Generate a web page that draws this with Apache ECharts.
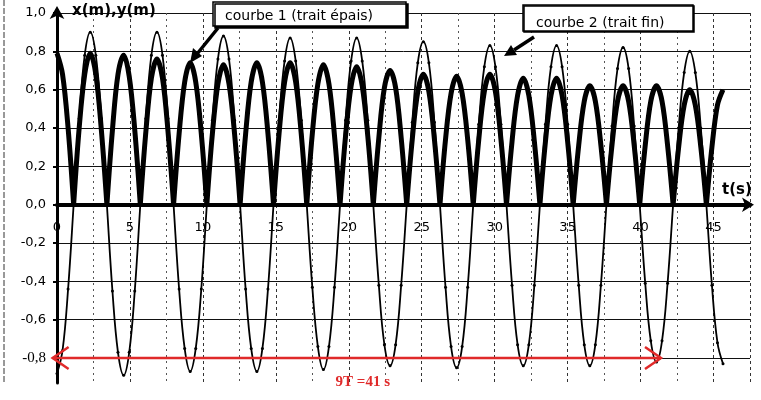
<!DOCTYPE html>
<html><head><meta charset="utf-8">
<script src="https://cdn.jsdelivr.net/npm/echarts@6/dist/echarts.min.js"></script>
<style>html,body{margin:0;padding:0;background:#fff}#c{width:761px;height:400px}</style>
</head><body><div id="c"></div>
<script>
// time samples t (s)
const tValues = [
 0, 0.38, 0.76, 1.14, 1.52, 1.90, 2.28, 2.66, 3.04, 3.42, 3.80, 4.18,
 4.57, 4.95, 5.33, 5.71, 6.09, 6.47, 6.85, 7.23, 7.61, 7.99, 8.37, 8.75,
 9.13, 9.51, 9.89, 10.27, 10.65, 11.03, 11.41, 11.79, 12.17, 12.55, 12.93, 13.31,
 13.70, 14.08, 14.46, 14.84, 15.22, 15.60, 15.98, 16.36, 16.74, 17.12, 17.50, 17.88,
 18.26, 18.64, 19.02, 19.40, 19.78, 20.16, 20.54, 20.92, 21.30, 21.68, 22.06, 22.44,
 22.83, 23.21, 23.59, 23.97, 24.35, 24.73, 25.11, 25.49, 25.87, 26.25, 26.63, 27.01,
 27.39, 27.77, 28.15, 28.53, 28.91, 29.29, 29.67, 30.05, 30.43, 30.81, 31.19, 31.57,
 31.96, 32.34, 32.72, 33.10, 33.48, 33.86, 34.24, 34.62, 35.00, 35.38, 35.76, 36.14,
 36.52, 36.90, 37.28, 37.66, 38.04, 38.42, 38.80, 39.18, 39.56, 39.94, 40.32, 40.70,
 41.09, 41.47, 41.85, 42.23, 42.61, 42.99, 43.37, 43.75, 44.13, 44.51, 44.89, 45.27,
 45.65
];
// courbe 1 (trait épais)
const courbe1 = [
 0.79, 0.68, 0.40, 0, 0.40, 0.68, 0.79, 0.68, 0.39, 0, 0.39, 0.68,
 0.78, 0.67, 0.39, 0, 0.38, 0.66, 0.76, 0.66, 0.38, 0, 0.37, 0.64,
 0.74, 0.64, 0.37, 0, 0.37, 0.63, 0.73, 0.63, 0.37, 0, 0.37, 0.64,
 0.74, 0.64, 0.37, 0, 0.37, 0.64, 0.74, 0.64, 0.37, 0, 0.37, 0.63,
 0.73, 0.63, 0.36, 0, 0.36, 0.62, 0.72, 0.62, 0.36, 0, 0.35, 0.61,
 0.70, 0.61, 0.35, 0, 0.34, 0.59, 0.68, 0.59, 0.34, 0, 0.34, 0.58,
 0.67, 0.58, 0.34, 0, 0.34, 0.59, 0.68, 0.59, 0.34, 0, 0.33, 0.57,
 0.66, 0.57, 0.33, 0, 0.33, 0.57, 0.66, 0.57, 0.33, 0, 0.31, 0.54,
 0.62, 0.54, 0.31, 0, 0.31, 0.54, 0.62, 0.54, 0.31, 0, 0.31, 0.54,
 0.62, 0.54, 0.31, 0, 0.30, 0.52, 0.60, 0.52, 0.30, 0, 0.30, 0.52,
 0.60
];
// courbe 2 (trait fin)
const courbe2 = [
 -0.88, -0.76, -0.44, 0, 0.45, 0.78, 0.90, 0.78, 0.45, 0, -0.45, -0.77,
 -0.89, -0.77, -0.45, 0, 0.45, 0.78, 0.90, 0.78, 0.45, 0, -0.44, -0.75,
 -0.87, -0.75, -0.44, 0, 0.44, 0.76, 0.88, 0.76, 0.44, 0, -0.44, -0.75,
 -0.87, -0.75, -0.44, 0, 0.44, 0.75, 0.87, 0.75, 0.44, 0, -0.43, -0.74,
 -0.86, -0.74, -0.43, 0, 0.44, 0.75, 0.87, 0.75, 0.44, 0, -0.42, -0.73,
 -0.84, -0.73, -0.42, 0, 0.43, 0.74, 0.85, 0.74, 0.43, 0, -0.43, -0.74,
 -0.85, -0.74, -0.43, 0, 0.42, 0.72, 0.83, 0.72, 0.42, 0, -0.42, -0.73,
 -0.84, -0.73, -0.42, 0, 0.42, 0.72, 0.83, 0.72, 0.42, 0, -0.42, -0.73,
 -0.84, -0.73, -0.42, 0, 0.41, 0.71, 0.82, 0.71, 0.41, 0, -0.41, -0.71,
 -0.82, -0.71, -0.41, 0, 0.40, 0.69, 0.80, 0.69, 0.40, 0, -0.42, -0.72,
 -0.83
];
const yTicks = [-0.8, -0.6, -0.4, -0.2, 0, 0.2, 0.4, 0.6, 0.8, 1.0];
const xTickStep = 5;
const yMin = -0.93, yMax = 1.0, xMax = 47.5;
const periodSpan = [-0.3, 41.4];   // red arrow 9T
const periodLevel = -0.8;
const periodLabel = '9T =41 s';
const label1 = 'courbe 1 (trait épais)';
const label2 = 'courbe 2 (trait fin)';
const yName = 'x(m),y(m)';
const xName = 't(s)';

// thick curve: break the line at each zero so the bottoms stay pointed
const thickData = [];
tValues.forEach((t, i) => {
  thickData.push([t, courbe1[i]]);
  if (courbe1[i] === 0 && i > 0 && i < tValues.length - 1) {
    thickData.push(null);
    thickData.push([t, courbe1[i]]);
  }
});

const chart = echarts.init(document.getElementById('c'), null, {renderer: 'canvas'});
const fmt = v => (Math.round(v * 10) / 10).toFixed(1).replace('.', ',');
chart.setOption({
  animation: false,
  backgroundColor: '#fff',
  grid: {left: 57, right: 11, top: 13, bottom: 17, outerBoundsMode: 'none', containLabel: false},
  xAxis: {
    type: 'value', min: 0, max: xMax, interval: xTickStep, position: 'bottom', offset: 0,
    axisLine: {onZero: false, lineStyle: {color: '#000', width: 4}, symbol: ['none', 'arrow'], symbolSize: [11, 12], symbolOffset: [0, 4]},
    axisTick: {show: false},
    axisLabel: {margin: 16, color: '#000', fontFamily: 'DejaVu Sans', fontSize: 13,
      formatter: v => (v % 5 === 0 && v <= 45) ? String(v) : ''},
    splitLine: {show: true, lineStyle: {color: '#333', type: [3, 3], width: 1}},
    minorTick: {show: false, splitNumber: 2},
    minorSplitLine: {show: true, lineStyle: {color: '#555', type: [2, 4], width: 1}}
  },
  yAxis: {
    type: 'value', min: yMin, max: yMax,
    axisLine: {show: true, onZero: false, lineStyle: {color: '#000', width: 3}, symbol: ['none', 'arrow'], symbolSize: [11, 13], symbolOffset: [0, 7]},
    axisTick: {show: true, length: 4, customValues: yTicks, lineStyle: {color: '#000', width: 2}},
    axisLabel: {customValues: yTicks, margin: 11, color: '#000', fontFamily: 'DejaVu Sans', fontSize: 13,
      formatter: v => Math.abs(v + 0.8) < 1e-6 ? '{s|' + fmt(v) + '}' : fmt(v),
      rich: {s: {fontFamily: 'Liberation Serif', fontSize: 15, color: '#000'}}},
    splitLine: {show: true, lineStyle: {color: '#111', width: 1}}
  },
  series: [
    {
      name: label1, type: 'line', smooth: 0.35, showSymbol: false, connectNulls: false,
      lineStyle: {color: '#000', width: 5}, z: 3,
      data: thickData
    },
    {
      name: label2, type: 'line', smooth: 0.4, symbol: 'circle', symbolSize: 3, showSymbol: true,
      itemStyle: {color: '#000'},
      lineStyle: {color: '#000', width: 1.8}, z: 4,
      data: tValues.map((t, i) => [t, courbe2[i]])
    }
  ]
});

// put the time axis on y = 0
const zeroY = chart.convertToPixel({gridIndex: 0}, [0, 0])[1];
const bottomY = chart.convertToPixel({gridIndex: 0}, [0, yMin])[1];
chart.setOption({xAxis: {offset: -(bottomY - zeroY)}});

const pL = chart.convertToPixel({gridIndex: 0}, [periodSpan[0], periodLevel]);
const pR = chart.convertToPixel({gridIndex: 0}, [periodSpan[1], periodLevel]);
const red = '#e02a2a';
chart.setOption({
  graphic: [
    {type: 'line', shape: {x1: 4, y1: 0, x2: 4, y2: 383}, style: {stroke: '#333', lineWidth: 1, lineDash: [6, 2]}},
    {type: 'text', left: 72, top: 4, style: {text: yName, font: 'bold 15px "DejaVu Sans"', fill: '#000'}},
    {type: 'text', x: 722, y: 190, style: {text: xName, font: 'bold 15px "DejaVu Sans"', fill: '#000', verticalAlign: 'middle'}},
    {type: 'rect', shape: {x: 213, y: 2, width: 193, height: 24}, style: {fill: '#fff', stroke: '#000', lineWidth: 1.5, shadowColor: '#000', shadowOffsetX: 2, shadowOffsetY: 2, shadowBlur: 0}, z: 10},
    {type: 'text', x: 225, y: 16, z: 11, style: {text: label1, font: '14px "DejaVu Sans"', fill: '#000', verticalAlign: 'middle'}},
    {type: 'line', z: 10, shape: {x1: 218, y1: 28, x2: 197, y2: 54}, style: {stroke: '#000', lineWidth: 3.5}},
    {type: 'polygon', z: 10, shape: {points: [[190, 63], [202, 56], [193, 48]]}, style: {fill: '#000'}},
    {type: 'rect', shape: {x: 523, y: 5, width: 170, height: 26}, style: {fill: '#fff', stroke: '#000', lineWidth: 1.5, shadowColor: '#000', shadowOffsetX: 1, shadowOffsetY: 1, shadowBlur: 0}, z: 10},
    {type: 'text', x: 536, y: 23, z: 11, style: {text: label2, font: '14px "DejaVu Sans"', fill: '#000', verticalAlign: 'middle'}},
    {type: 'line', z: 10, shape: {x1: 534, y1: 37, x2: 514, y2: 50}, style: {stroke: '#000', lineWidth: 3.5}},
    {type: 'polygon', z: 10, shape: {points: [[504, 56], [517, 55], [511, 45]]}, style: {fill: '#000'}},
    {type: 'line', z: 20, shape: {x1: pL[0], y1: pL[1], x2: pR[0], y2: pR[1]}, style: {stroke: red, lineWidth: 2.5}},
    {type: 'polyline', z: 20, shape: {points: [[pL[0] + 16, pL[1] - 11], [pL[0], pL[1]], [pL[0] + 16, pL[1] + 11]]}, style: {stroke: red, lineWidth: 2.5, fill: null}},
    {type: 'polyline', z: 20, shape: {points: [[pR[0] - 16, pR[1] - 11], [pR[0], pR[1]], [pR[0] - 16, pR[1] + 11]]}, style: {stroke: red, lineWidth: 2.5, fill: null}},
    {type: 'text', x: (pL[0] + pR[0]) / 2 + 6, y: 382, z: 20, style: {text: periodLabel, font: 'bold 15px "Liberation Serif"', fill: red, align: 'center', verticalAlign: 'middle'}}
  ]
});
</script>
</body></html>
